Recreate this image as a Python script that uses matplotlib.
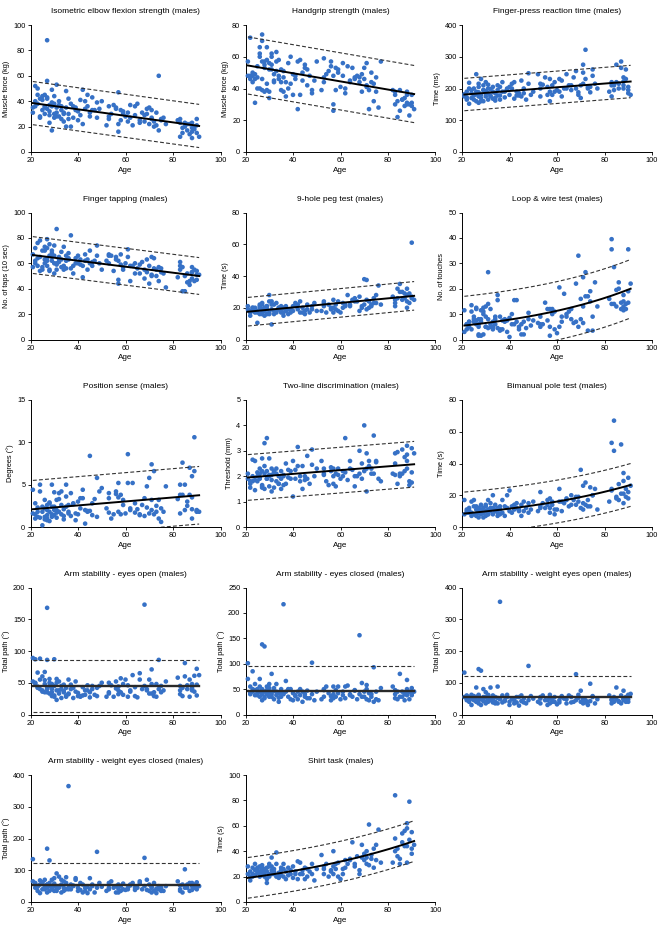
import numpy as np
import matplotlib
matplotlib.use('Agg')
import matplotlib.pyplot as plt

plt.rcParams['font.family'] = ['Liberation Sans', 'DejaVu Sans']

# ---- shared subject ages (same male participants in every test) ----
age_a = [21,21,22,22,23,23,24,24,24,25,25,26,26,26,27,27,27,27,28,28,28,29,29,29,30,30,30,31,31,31,32,32,33,33,33,34,34,35,35,35]
age_b = [36,36,37,37,38,39,39,40,40,41,42,42,43,43,44,45,45,46,47,48,48,49,50]
age_c = [52,53,53,54,55,56,57,57,57,58,58,59,60,61,61,62,63,64,65,66,67,68,68,69,70,70,71,71,72,72,73,74,74,75,76,77]
age_d = [82,83,83,84,84,85,85,86,87,87,88,88,88,89,89,90,90,91]
age_e = [22,23,25,26,27,28,29,30,31,32,34,36,38,41,44,46,53,56,59,62,64,66,69,71,73,75,83,86,88,90]
ages = np.array(age_a + age_b + age_c + age_d + age_e, dtype=float)

# ---- measured values per test (same subject order as ages) ----
elbow = [35,31,52,36,50,38,42,27,28,44,33,45,36,30,88,56,42,34,37,23,29,17,49,36,38,30,27,53,35,31,40,28,33,36,26,24,31,48,20,35,
         26,30,38,20,27,33,35,25,32,41,49,22,34,40,36,28,31,43,33,39,27,34,40,
         21,36,28,30,37,35,47,16,22,25,33,30,28,24,31,37,21,36,38,25,31,29,24,34,35,22,33,26,24,20,31,60,17,25,27,22,
         25,12,26,19,15,20,23,22,14,22,16,11,23,18,20,26,21,12,
         40,45,41,35,43,32,39,44,28,37,30,42,36,29,45,33,26,34,32,27,29,23,30,27,21,26,23,17,19,15]
handgrip = [57,48,48,72,44,48,31,46,49,47,54,66,40,60,74,70,39,46,57,53,38,39,58,43,56,38,34,55,60,52,49,45,57,63,51,46,48,39,52,44,
            38,47,35,44,56,60,43,49,36,46,27,57,58,36,50,55,53,42,48,37,39,45,57,
            39,59,44,49,51,54,26,30,48,53,39,50,41,56,48,37,54,44,53,46,48,44,47,38,46,53,41,56,27,39,50,43,32,47,28,57,
            39,30,38,22,32,39,26,33,34,29,36,38,31,23,30,31,29,27,
            46,50,40,62,57,55,66,52,62,44,58,51,40,48,45,52,47,57,52,40,45,47,49,42,44,38,36,33,30,36]
reaction = [182,175,165,172,218,152,185,195,170,200,178,245,190,160,188,205,215,155,230,180,170,210,195,160,192,220,175,212,165,185,198,178,190,168,205,170,185,210,178,195,
            165,178,220,190,172,198,200,180,205,215,220,168,178,190,185,225,175,200,165,248,215,180,190,
            245,200,175,212,235,180,160,230,190,210,180,220,195,230,190,175,200,245,210,195,235,255,200,180,210,170,275,250,322,230,200,205,188,260,215,200,
            190,220,175,210,195,275,220,200,285,265,235,210,200,230,260,185,195,180,
            190,200,165,182,175,160,195,185,200,175,162,205,190,200,178,185,215,205,190,225,200,210,188,215,205,240,210,215,222,205]
tapping = [67,57,72,62,76,58,54,65,78,55,70,73,60,63,79,62,72,58,75,66,55,62,65,70,74,52,60,60,87,55,61,65,57,69,63,73,58,62,56,66,
           68,63,82,56,52,60,64,60,66,63,58,49,67,62,63,60,70,58,62,74,66,60,55,
           62,60,67,66,54,65,47,44,62,59,67,55,60,65,71,46,58,60,56,52,61,55,48,63,44,58,65,51,64,56,50,57,46,56,52,41,
           49,58,61,57,38,50,38,52,46,43,48,53,57,55,46,51,54,51,
           60,64,57,70,64,54,68,66,59,63,55,64,58,59,55,61,66,63,57,58,52,59,53,50,55,53,55,45,53,47]
peg = [21,19,17,15,20,18,19,17,20,10.5,18,16,20,21,23,19,17,22,15,18,20,21,16,19,28,24,17,9.5,22,19,16,22,23,18,17,19,20,18,21,17,
       15,20,18,21,16,19,17,18,21,23,19,22,17,24,20,16,18,22,17,21,19,23,18,
       18,21,24,17,22,19,25,20,17,22,19,24,17,23,20,22,28,21,25,26,24,18,27,21,38,22,37.5,19,20,24,22,26,23,28,34,22,
       27,23,21,32,26,30,35,25,26,29,20,32,28,23,29,61,26,25,
       18,20,17,22,16,19,21,16,24,18,20,17,19,21,17,19,23,20,18,21,22,24,20,25,21,23,25,30,24,27]
loopwire = [11.5,3,4,6,7,5,13.5,4,11,8,7,12.5,6,7.5,8,5,2,1.5,11.5,7,1.5,12.5,2,11,9,13,5,26.5,14,4.5,12,5,7,5,4,8,6,15.5,17.5,4.5,
            3.5,9,4,7.5,8,3,7.5,1,8.5,10,6,15.5,7,15.5,5,2,6,2,4.5,10.5,8,5.5,7.5,
            6.5,5,6,6,14.5,7.5,1.5,12,5,10,12,4,2.5,20.5,5,7,18,9,11,8,6.5,22,7,33,8,16,24.5,6.5,17,26.5,3.5,15,19,3.5,22.5,13,
            16,39.5,35.5,14,28.5,19.5,13,22.5,12,14.5,11.5,15,17.5,14,12,35.5,14.5,22,
            6,7,9,12,6,8,10,5,8,6,9,4,7,6,4,7,9,12,11,9,10,12,5,13,17,9,14,20,13,19]
position = [4.4,1.6,2.8,1.0,1.8,1.2,5.0,4.2,1.1,0.2,2.4,1.2,0.9,3.2,2.0,2.6,1.0,0.8,2.8,1.8,0.7,5.0,2.4,1.5,4.1,2.0,1.4,3.2,2.0,1.1,4.0,1.8,1.5,4.2,2.6,1.3,0.9,5.0,3.6,2.4,
            1.8,2.6,4.0,1.3,2.8,1.6,0.8,1.5,3.0,2.2,4.4,3.4,0.4,2.0,1.8,8.4,1.9,1.4,3.3,5.8,1.2,4.2,4.6,
            2.2,3.4,4.0,1.0,1.5,4.2,5.2,3.5,1.8,1.5,3.8,2.6,1.6,8.6,5.2,2.0,5.2,1.7,2.1,1.4,2.6,3.4,1.3,4.8,1.6,5.8,2.0,7.4,6.6,1.5,2.5,3.2,1.0,0.6,1.8,4.8,
            3.3,5.0,1.6,7.6,3.8,2.0,5.0,3.0,3.8,7.0,1.0,6.0,3.5,10.6,6.6,1.9,2.0,1.8,
            1.5,2.3,1.8,2.2,1.4,2.9,1.2,2.4,1.7,3.3,2.1,1.6,2.7,3.4,1.9,2.8,1.7,3.9,3.2,2.2,2.8,1.5,2.3,3.2,1.8,2.2,3.8,2.5,2.1,1.8]
twoline = [2.1,1.9,1.7,1.55,2.65,1.8,1.45,2.6,1.85,2.0,1.8,2.3,2.1,1.9,2.7,1.55,2.2,1.65,3.3,2.1,1.5,3.5,1.9,2.2,2.7,2.0,1.6,2.3,2.05,1.4,2.2,1.55,1.8,2.3,2.1,2.0,1.7,1.9,2.2,1.5,
           1.65,2.0,2.5,1.7,2.25,1.9,2.2,1.2,2.6,1.9,3.15,2.4,1.8,2.0,1.5,2.0,1.85,2.8,1.7,3.05,2.45,2.0,2.3,
           2.6,2.1,2.3,1.8,1.65,2.2,2.3,1.7,2.0,2.1,1.6,2.3,1.9,2.2,2.0,3.5,1.85,2.6,2.25,1.6,2.0,3.0,2.1,1.9,4.0,2.2,2.9,1.4,2.6,2.4,2.3,3.6,2.1,2.6,1.9,1.8,
           2.1,2.9,2.5,2.95,1.7,2.1,2.0,3.05,2.2,2.75,3.2,2.85,2.3,1.8,1.65,3.1,2.15,2.9,
           1.8,2.0,2.15,1.95,1.6,2.4,1.9,2.05,1.85,2.15,1.7,2.05,1.95,2.25,2.4,1.9,2.05,2.35,2.05,2.15,2.3,2.0,2.5,2.3,2.1,2.55,2.05,2.1,2.6,1.75]
bimanual = [17,8,11,9,10.5,12,16,9,7,17,8,11,13,7,12,9,6,10,11,8,14,6,9,12,7,10,14,11,17,8,15,10,12,20,8,14,10,12,7,9,
            13,11,9,17,7,12,20,10,23,13,14,11,12,15,10,7,14,10,12,9,15,11,16,
            10,22,13,15,12,17,9,12,18,16,14,8,11,24,16,10,15,18,13,20,17,14,19,16,12,36,11,26,14,28,17,25,13,20,24,11,
            16,53,24,67,48,19,18,27,52,21,29,15,34,19,24,31,22,26,
            10,9,13,8,11,10,9,13,8,12,11,8,13,9,11,16,12,14,11,16,17,14,19,15,13,20,23,17,21,18]
arm_open = [89,52,49,87,66,44,88,40,55,60,38,67,35,48,168,86,42,35,56,50,33,48,29,40,87,28,45,56,38,23,33,52,26,45,40,37,35,42,28,30,
            33,55,40,47,26,36,52,34,29,28,30,43,38,31,46,27,35,40,31,29,42,45,50,
            28,50,35,46,28,52,32,44,38,35,57,31,55,28,46,38,62,29,27,65,40,173,45,38,55,33,71,48,29,35,28,86,40,45,38,52,
            58,32,45,29,42,81,60,40,28,55,38,42,48,36,61,72,30,62,
            50,42,36,54,40,45,35,30,50,38,47,32,42,29,38,45,33,41,48,36,43,55,40,33,48,35,38,46,40,47]
arm_closed = [101,70,55,40,85,45,38,60,48,42,50,35,45,70,138,50,28,40,134,45,32,48,55,40,35,60,42,80,45,35,52,30,45,60,38,25,42,40,50,35,
              217,40,66,45,35,30,50,28,42,36,45,30,50,38,25,40,35,47,32,102,40,28,45,
              30,50,35,55,42,28,55,40,32,48,35,55,30,38,45,32,57,40,35,48,30,156,40,62,35,45,58,30,42,28,35,93,25,45,28,52,
              55,40,32,45,30,80,35,45,28,40,50,38,68,45,30,52,40,45,
              42,50,38,55,48,35,45,52,40,46,33,42,50,38,45,32,48,36,42,55,38,47,35,50,40,30,48,35,42,38]
arm_w_open = [132,55,60,45,55,40,62,30,50,58,45,55,40,85,143,60,35,45,138,50,30,80,48,42,55,70,35,62,45,40,85,50,38,60,45,55,40,88,52,35,
              355,48,60,38,45,55,62,30,40,50,35,45,55,38,28,60,42,50,35,153,45,58,50,
              40,55,35,60,45,30,62,50,35,48,40,55,32,38,45,58,50,35,60,55,40,127,45,62,40,75,50,35,45,38,30,97,42,58,35,48,
              60,45,35,55,40,85,48,40,35,60,50,45,75,40,55,62,48,65,
              50,45,55,42,62,48,55,40,60,45,35,50,42,48,55,38,50,45,40,55,48,38,52,45,40,55,48,42,50,40]
arm_w_closed = [135,65,60,45,50,35,68,28,55,60,40,70,45,50,168,55,30,45,131,60,35,70,48,40,50,75,35,90,50,35,80,45,30,70,55,45,35,78,60,40,
                365,45,55,40,50,70,75,35,45,60,30,55,45,35,28,75,40,50,30,158,45,60,48,
                35,60,40,65,45,30,55,42,30,50,35,58,38,40,45,55,60,38,45,65,40,139,50,70,35,55,45,30,60,35,28,50,40,45,35,50,
                65,40,35,55,30,103,45,55,35,60,50,38,60,45,55,62,50,50,
                55,48,62,40,55,50,45,58,42,50,65,40,52,38,48,55,45,50,40,52,45,60,38,48,42,35,52,45,55,40]
shirt = [28,22,17,20,27,22,30,21,25,23,26,24,28,20,22,27,25,29,23,20,26,15,27,18,22,30,20,35,25,28,22,26,39,30,20,23,19,27,21,25,
         20,30,18,24,27,22,25,19,28,22,18,32,22,31,25,18,27,20,24,30,22,17,26,
         37,22,26,30,20,24,40,28,22,26,30,20,18,22,26,33,30,34,47,28,36,22,25,45,33,38,35,30,61,29,34,42,27,33,57,31,
         31,84,50,42,36,34,30,54,44,56,62,31,58,79,49,42,55,45,
         24,20,27,22,26,21,24,28,22,24,20,26,21,24,22,26,28,25,31,27,33,30,35,40,37,45,40,47,44,38]

titles = ['Isometric elbow flexion strength (males)', 'Handgrip strength (males)', 'Finger-press reaction time (males)',
          'Finger tapping (males)', '9-hole peg test (males)', 'Loop & wire test (males)',
          'Position sense (males)', 'Two-line discrimination (males)', 'Bimanual pole test (males)',
          'Arm stability - eyes open (males)', 'Arm stability - eyes closed (males)', 'Arm stability - weight eyes open (males)',
          'Arm stability - weight eyes closed (males)', 'Shirt task (males)']
ylabels = ['Muscle force (kg)', 'Muscle force (kg)', 'Time (ms)', 'No. of taps (10 sec)', 'Time (s)', 'No. of touches',
           'Degrees (°)', 'Threshold (mm)', 'Time (s)', 'Total path (°)', 'Total path (°)', 'Total path (°)',
           'Total path (°)', 'Time (s)']
series = [elbow, handgrip, reaction, tapping, peg, loopwire, position, twoline, bimanual,
          arm_open, arm_closed, arm_w_open, arm_w_closed, shirt]
ymax = [100, 80, 400, 100, 80, 50, 15, 5, 80, 200, 250, 400, 400, 100]
ystep = [20, 20, 100, 20, 20, 10, 5, 1, 20, 50, 50, 100, 100, 20]
# fitted curve: kind, value at age 21, value at age 91, half-width of prediction band
fit_kind = ['lin', 'lin', 'lin', 'lin', 'lin', 'exp', 'lin', 'lin', 'exp', 'const', 'const', 'const', 'const', 'exp']
fit_start = [38.5, 54.5, 181, 66.5, 17.5, 5.5, 2.1, 1.95, 8.5, 45, 47, 55, 55, 19]
fit_end = [20.5, 36.5, 222, 50, 27.5, 20, 3.75, 2.47, 26.5, 45, 47, 55, 55, 48]
fit_band = [17, 18, 51, 14.5, 9, 11.5, 3.4, 0.9, 13.5, 40.5, 48, 65, 67, 16]

W, H = 666, 940
fig = plt.figure(figsize=(W / 100, H / 100), dpi=100)
col_left = [30.5, 245.5, 462]
ax_w = 190
ax_h = 127
row_top = [25 + 187.5 * r for r in range(5)]
point_color = '#3671c6'

for i in range(14):
    r, c = divmod(i, 3)
    left = col_left[c]
    top = row_top[r]
    ax = fig.add_axes([left / W, 1 - (top + ax_h) / H, ax_w / W, ax_h / H])
    ax.scatter(ages, series[i], s=11, color=point_color, edgecolors='none', zorder=3, clip_on=False)
    xs = np.linspace(21, 91, 200)
    t = (xs - 21) / 70
    a, b = fit_start[i], fit_end[i]
    if fit_kind[i] == 'lin':
        ys = a + (b - a) * t
    elif fit_kind[i] == 'exp':
        ys = a * (b / a) ** t
    else:
        ys = np.full_like(xs, a)
    lw_main = 1.4 if fit_kind[i] != 'const' else 1.7
    col_main = 'black' if fit_kind[i] != 'const' else '#2a2a2a'
    ax.plot(xs, ys, color=col_main, lw=lw_main, zorder=4)
    ax.plot(xs, ys + fit_band[i], color='#333333', lw=0.8, ls=(0, (3.5, 2)), zorder=4)
    ax.plot(xs, ys - fit_band[i], color='#333333', lw=0.8, ls=(0, (3.5, 2)), zorder=4)
    ax.set_xlim(20, 100)
    ax.set_ylim(0, ymax[i])
    ax.set_xticks([20, 40, 60, 80, 100])
    ax.set_yticks(np.arange(0, ymax[i] + ystep[i] * 0.5, ystep[i]))
    for s in ['top', 'right']:
        ax.spines[s].set_visible(False)
    for s in ['left', 'bottom']:
        ax.spines[s].set_linewidth(0.7)
    ax.tick_params(labelsize=5.3, length=2.2, width=0.6, pad=1.5)
    ax.set_title(titles[i], fontsize=6.0, pad=8.5)
    ax.set_xlabel('Age', fontsize=5.8, labelpad=2)
    ax.set_ylabel(ylabels[i], fontsize=5.3, labelpad=2.5)

fig.savefig('out.png', dpi=100)
